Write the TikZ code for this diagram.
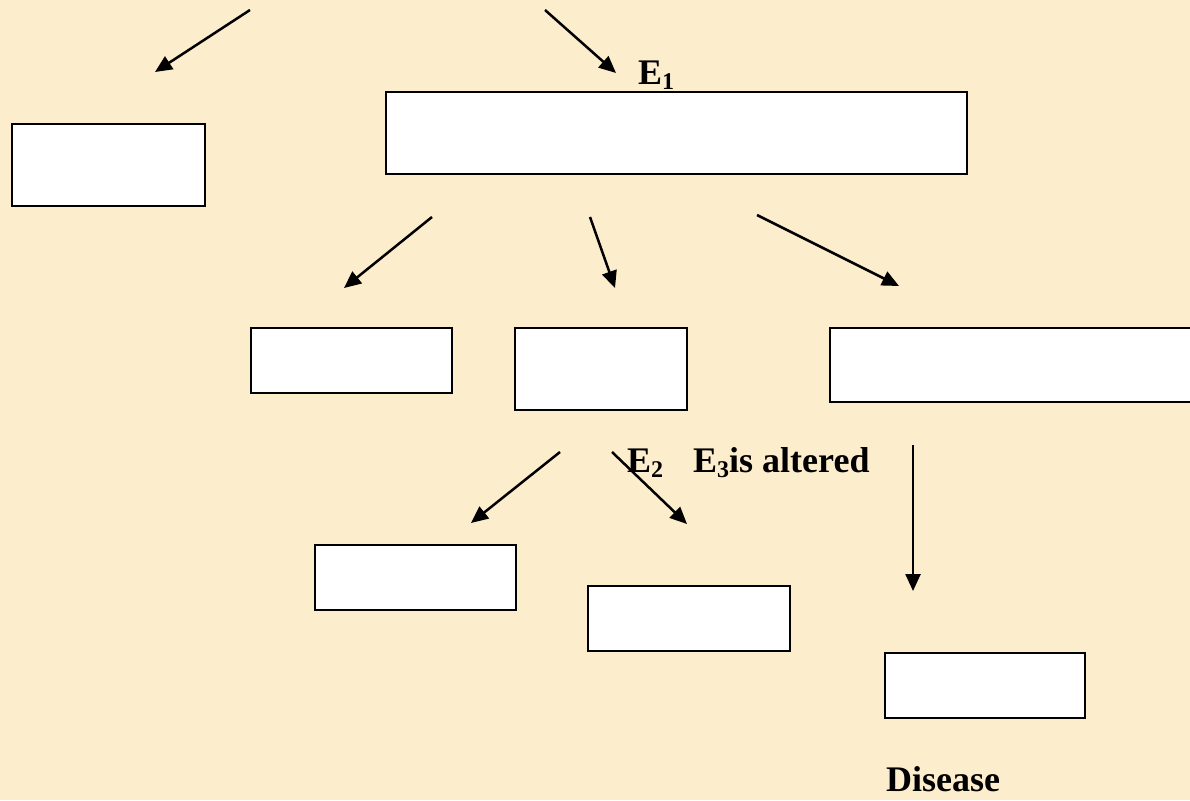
\documentclass[tikz,border=0pt]{standalone}
\usepackage{fontspec}
\setmainfont{Liberation Serif}
\usetikzlibrary{arrows.meta}
\definecolor{bg}{RGB}{252,237,204}
\newcommand{\sbs}[1]{\raisebox{-0.16em}{\fontsize{24}{24}\selectfont #1}}
\begin{document}
\begin{tikzpicture}[x=1pt,y=-1pt,
  box/.style={draw=black,line width=2.2pt,fill=white},
  arr/.style={line width=2.5pt,-{Triangle[length=17pt,width=15pt]}},
  lbl/.style={font=\fontsize{36}{38}\selectfont\bfseries,inner sep=0pt,anchor=base west}]
\fill[bg] (0,0) rectangle (1190,800);
\useasboundingbox (0,0) rectangle (1190,800);
% boxes
\draw[box] (12,124) rectangle (205,206);
\draw[box] (386,92) rectangle (967,174);
\draw[box] (251,328) rectangle (452,393);
\draw[box] (515,328) rectangle (687,410);
\draw[box] (830,328) rectangle (1200,402);
\draw[box] (315,545) rectangle (516,610);
\draw[box] (588,586) rectangle (790,651);
\draw[box] (885,653) rectangle (1085,718);
% arrow coordinates
\coordinate (a1s) at (250,10);  \coordinate (a1e) at (155,72);
\coordinate (a2s) at (545,10);  \coordinate (a2e) at (616,73);
\coordinate (a3s) at (432,217); \coordinate (a3e) at (344,288);
\coordinate (a4s) at (590,217); \coordinate (a4e) at (615,288);
\coordinate (a5s) at (757,215); \coordinate (a5e) at (899,286);
\coordinate (a6s) at (560,452); \coordinate (a6e) at (471,523);
\coordinate (a7s) at (612,452); \coordinate (a7e) at (687,524);
\coordinate (a8s) at (913,445); \coordinate (a8e) at (913,591);
\draw[arr] (a1s) -- (a1e);
\draw[arr] (a2s) -- (a2e);
\draw[arr] (a3s) -- (a3e);
\draw[arr] (a4s) -- (a4e);
\draw[arr] (a5s) -- (a5e);
\draw[arr] (a6s) -- (a6e);
\draw[arr] (a7s) -- (a7e);
\draw[arr] (a8s) -- (a8e);
% labels
\node[lbl] (e1) at (638,84) {E\sbs{1}};
\node[lbl] (e2) at (627,472) {E\sbs{2}};
\node[lbl] (e3) at (693,472) {E\sbs{3}is altered};
\node[lbl] (dis) at (886,791) {Disease};
\end{tikzpicture}
\end{document}
